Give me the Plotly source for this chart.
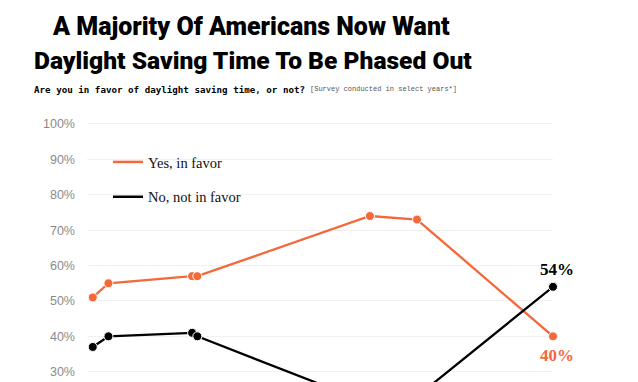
import plotly.graph_objects as go

# ---- data ----
years = [1937, 1940, 1956, 1957, 1990, 1999, 2025]
yes_in_favor = [51, 55, 57, 57, 74, 73, 40]
no_not_in_favor = [37, 40, 41, 40, 21, 23, 54]
y_ticks = [30, 40, 50, 60, 70, 80, 90, 100]
y_tick_labels = [f"{v}%" for v in y_ticks]
series_names = ["Yes, in favor", "No, not in favor"]

ORANGE = "#F4683A"
BLACK = "#000000"

OFF = 8  # page body margin
W, H = 638 - OFF, 382 - OFF
L = 87 - OFF
R = W - (553 - OFF)
T = 110 - OFF
B = 0
PW, PH = W - L - R, H - T - B


def px_x(px):
    return (px - OFF - L) / PW


def px_y(py):
    return (H - B - (py - OFF)) / PH


fig = go.Figure()

fig.add_trace(go.Scatter(
    x=years, y=yes_in_favor, mode="lines+markers",
    line=dict(color=ORANGE, width=2.3),
    marker=dict(color=ORANGE, size=9, line=dict(color="white", width=1)),
    cliponaxis=False, showlegend=False, hoverinfo="skip"))
fig.add_trace(go.Scatter(
    x=years, y=no_not_in_favor, mode="lines+markers",
    line=dict(color=BLACK, width=2.3),
    marker=dict(color=BLACK, size=9, line=dict(color="white", width=1)),
    cliponaxis=False, showlegend=False, hoverinfo="skip"))

for name, col, grp in [(series_names[0], ORANGE, "a"), (series_names[1], BLACK, "b")]:
    fig.add_trace(go.Scatter(x=[None], y=[None], mode="lines", name=name,
                             legendgroup=grp, line=dict(color=col, width=2.5)))

# end-value labels
LABEL_FONT = "Liberation Serif, serif"
fig.add_annotation(x=years[-1], y=no_not_in_favor[-1], text=f"{no_not_in_favor[-1]}%",
                   showarrow=False, xshift=4, yshift=17, xanchor="center", yanchor="middle",
                   font=dict(family=LABEL_FONT, size=17, color=BLACK, weight="bold"))
fig.add_annotation(x=years[-1], y=yes_in_favor[-1], text=f"{yes_in_favor[-1]}%",
                   showarrow=False, xshift=4, yshift=-19, xanchor="center", yanchor="middle",
                   font=dict(family=LABEL_FONT, size=17, color=ORANGE, weight="bold"))

fig.update_layout(
    width=W, height=H,
    margin=dict(l=L, r=R, t=T, b=B, pad=0),
    paper_bgcolor="white", plot_bgcolor="white",
    xaxis=dict(range=[1935.9, 2025], visible=False, fixedrange=True),
    yaxis=dict(range=[27.1, 103.95], tickvals=y_ticks, ticktext=y_tick_labels,
               showgrid=True, gridcolor="#f1f1f1", gridwidth=1, zeroline=False,
               showline=False, ticks="", ticklabelstandoff=11,
               tickfont=dict(family="Liberation Sans, Arial, sans-serif", size=12.5, color="#8a8a8a")),
    showlegend=True,
    legend=dict(x=px_x(108), y=px_y(146), xanchor="left", yanchor="top",
                bgcolor="rgba(0,0,0,0)", borderwidth=0,
                traceorder="grouped", tracegroupgap=13,
                font=dict(family="Liberation Serif, serif", size=14.5, color="#111")),
    hovermode=False,
)

TITLE_FONT = "Roboto, Liberation Sans, Arial, sans-serif"
fig.add_annotation(text="A Majority Of Americans Now Want", xref="paper", yref="paper",
                   x=px_x(251), y=px_y(26), xanchor="center", yanchor="middle", showarrow=False,
                   font=dict(family=TITLE_FONT, size=25, color="#000", weight=900))
fig.add_annotation(text="Daylight Saving Time To Be Phased Out", xref="paper", yref="paper",
                   x=px_x(253), y=px_y(61), xanchor="center", yanchor="middle", showarrow=False,
                   font=dict(family=TITLE_FONT, size=24.6, color="#000", weight=900))
fig.add_annotation(text="<b>Are you in favor of daylight saving time, or not?</b>", xref="paper", yref="paper",
                   x=px_x(32), y=px_y(89), xanchor="left", yanchor="middle", showarrow=False,
                   font=dict(family="DejaVu Sans Mono, Liberation Mono, monospace", size=9.2, color="#000"))
fig.add_annotation(text="[Survey conducted in select years*]", xref="paper", yref="paper",
                   x=px_x(308), y=px_y(89), xanchor="left", yanchor="middle", showarrow=False,
                   font=dict(family="Liberation Mono, DejaVu Sans Mono, monospace", size=7, color="#555"))

fig.write_html("out.html")
